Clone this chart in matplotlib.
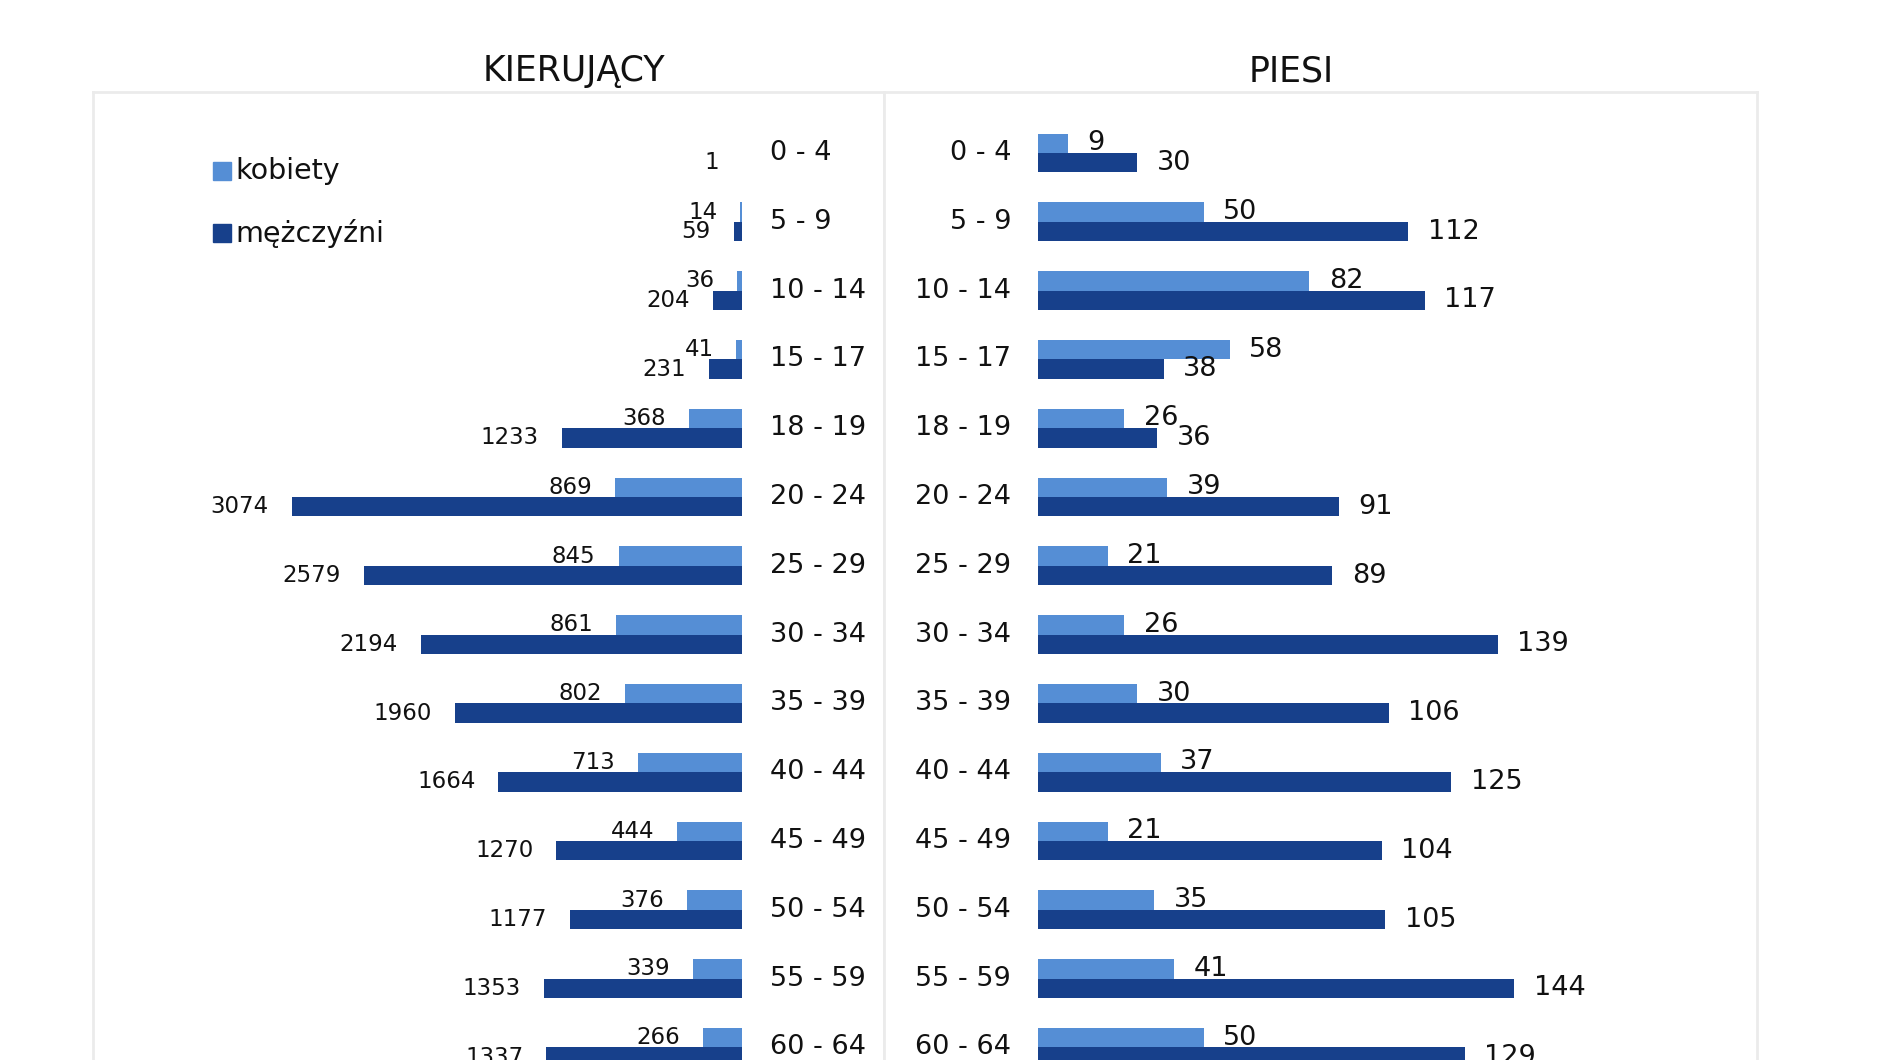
import matplotlib
matplotlib.use("Agg")
import matplotlib.pyplot as plt
from matplotlib.patches import Rectangle

plt.rcParams['font.family'] = ['DejaVu Sans']

# ---- data ----
age_groups = ["0 - 4", "5 - 9", "10 - 14", "15 - 17", "18 - 19", "20 - 24", "25 - 29",
              "30 - 34", "35 - 39", "40 - 44", "45 - 49", "50 - 54", "55 - 59", "60 - 64"]
drivers_women = [None, 14, 36, 41, 368, 869, 845, 861, 802, 713, 444, 376, 339, 266]
drivers_men = [1, 59, 204, 231, 1233, 3074, 2579, 2194, 1960, 1664, 1270, 1177, 1353, 1337]
ped_women = [9, 50, 82, 58, 26, 39, 21, 26, 30, 37, 21, 35, 41, 50]
ped_men = [30, 112, 117, 38, 36, 91, 89, 139, 106, 125, 104, 105, 144, 129]
series_names = ["kobiety", "mężczyźni"]
panel_titles = ["KIERUJĄCY", "PIESI"]

C_WOMEN = "#558ED5"
C_MEN = "#17408B"
BOX = "#EBEBEB"

W, H = 1880, 1060
fig = plt.figure(figsize=(W / 100, H / 100), dpi=100)
fig.patch.set_facecolor("white")

def frac_rect(x0, x1, ytop, ybot):
    return [x0 / W, 1 - ybot / H, (x1 - x0) / W, (ybot - ytop) / H]

TOP, BOT = 92, 1120
ROW0, PITCH = 153, 68.8
ylim = ((BOT - ROW0) / PITCH, (TOP - ROW0) / PITCH)

axL = fig.add_axes(frac_rect(93, 884, TOP, BOT))
axR = fig.add_axes(frac_rect(884, 1757, TOP, BOT))

# left: zero at px 742.5, 0.1467 px/unit, inverted
zL, sL = 742.5, 0.1467
axL.set_xlim((zL - 93) / sL, -(884 - zL) / sL)
zR, sR = 1038.3, 3.305
axR.set_xlim(-(zR - 884) / sR, (1757 - zR) / sR)

bh = 0.283
ys = list(range(len(age_groups)))

for ax in (axL, axR):
    ax.set_ylim(*ylim)
    ax.set_xticks([])
    ax.set_yticks([])
    for s in ax.spines.values():
        s.set_color(BOX)
        s.set_linewidth(2)
    ax.spines['bottom'].set_visible(False)

def draw(ax, women, men, pad, lab_fs):
    wv = [0 if v is None else v for v in women]
    ax.barh([y - bh / 2 for y in ys], wv, height=bh, color=C_WOMEN, zorder=2)
    ax.barh([y + bh / 2 for y in ys], men, height=bh, color=C_MEN, zorder=3)
    ha = 'right' if pad < 0 else 'left'
    for y, v in zip(ys, women):
        if v is None:
            continue
        ax.annotate(str(v), xy=(v, y - bh / 2), xytext=(pad, 0), textcoords='offset points',
                    ha=ha, va='center', fontsize=lab_fs, color='#111111', zorder=4,
                    annotation_clip=False)
    for y, v in zip(ys, men):
        ax.annotate(str(v), xy=(v, y + bh / 2), xytext=(pad, 0), textcoords='offset points',
                    ha=ha, va='center', fontsize=lab_fs, color='#111111', zorder=4,
                    annotation_clip=False)

draw(axL, drivers_women, drivers_men, -16.5, 16.5)
draw(axR, ped_women, ped_men, 14, 19.5)

# category labels
for y, lab in zip(ys, age_groups):
    axL.annotate(lab, xy=(0, y), xytext=(19.8, 0), textcoords='offset points',
                 ha='left', va='center', fontsize=19.5, color='#111111', annotation_clip=False)
    axR.annotate(lab, xy=(0, y), xytext=(-19.5, 0), textcoords='offset points',
                 ha='right', va='center', fontsize=19.5, color='#111111', annotation_clip=False)

# titles
fig.text(574 / W, 1 - 71 / H, panel_titles[0], ha='center', va='center', fontsize=25, color='#111111')
fig.text(1291 / W, 1 - 71 / H, panel_titles[1], ha='center', va='center', fontsize=25, color='#111111')

# legend (manual)
for cy, name, col in [(171, series_names[0], C_WOMEN), (233, series_names[1], C_MEN)]:
    fig.add_artist(Rectangle((213 / W, 1 - (cy + 9) / H), 18 / W, 18 / H,
                             transform=fig.transFigure, color=col))
    fig.text(235 / W, 1 - cy / H, name, ha='left', va='center', fontsize=20.5, color='#111111')

fig.savefig("out.png", dpi=100, facecolor="white")
